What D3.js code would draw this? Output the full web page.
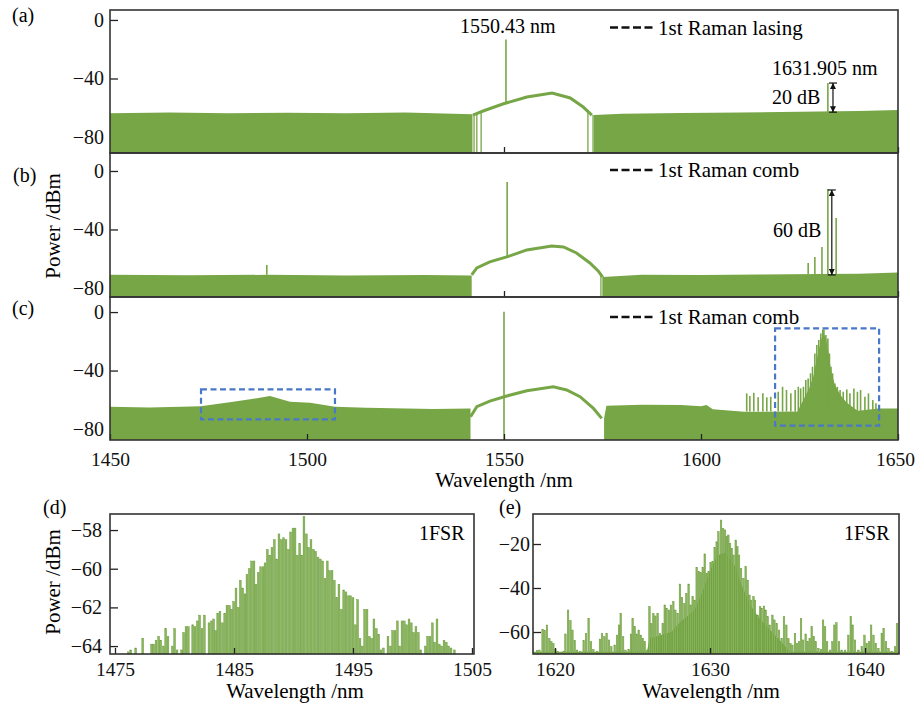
<!DOCTYPE html>
<html>
<head>
<meta charset="utf-8">
<script src="https://cdn.jsdelivr.net/npm/d3@7"></script>
<style>
  body { margin: 0; background: #fff; }
</style>
</head>
<body>
<div id="container"></div>
<script>
/* DATA */
const topTicksX = [1450, 1500, 1550, 1600, 1650];
const topTicksY = [0, -40, -80];
const dTicksX = [1475, 1485, 1495, 1505];
const dTicksY = [-58, -60, -62, -64];
const eTicksX = [1620, 1630, 1640];
const eTicksY = [-20, -40, -60];

// panel (a): [wavelength nm, dBm]
const aFloorLeft = [[1450,-63.8],[1465,-63.3],[1480,-63.8],[1495,-63.4],[1510,-63.7],[1525,-63.3],[1542,-64.5]];
const aFloorRight = [[1572.8,-65],[1580,-64],[1595,-63.6],[1610,-63.2],[1625,-62.8],[1640,-62.2],[1650,-61.5]];
const aHump = [[1542.1,-65],[1544.7,-62.2],[1549.7,-57.4],[1555.8,-52.6],[1562.2,-49.9],[1566.8,-53.3],[1570.1,-59.5],[1572.3,-65]];
const aEdges = [[1542.4,-64],[1543.1,-63.5],[1544.2,-62.6],[1571.3,-61.8],[1572.6,-65]];
const aSpikes = [[1550.5,-57.2,-13.3],[1632.2,-63,-43.1]]; // [nm, base, peak]

// panel (b)
const bFloorLeft = [[1450,-71],[1470,-71.4],[1490,-71],[1510,-71.5],[1530,-71.2],[1541.8,-71.5]];
const bFloorRight = [[1575,-72.5],[1585,-71],[1600,-71.2],[1615,-70.8],[1630,-70.5],[1640,-70.3],[1650,-69.5]];
const bHump = [[1541.8,-71.1],[1543.1,-66.3],[1546.4,-62.2],[1550.7,-58.8],[1555.8,-54],[1562.1,-51.3],[1565.1,-52],[1568.4,-56.1],[1571.8,-62.9],[1573.9,-68.4],[1575,-72.5]];
const bEdges = [[1574.6,-70],[1575.2,-72]];
const bSpikes = [[1489.8,-71,-64.3],[1550.8,-58.8,-7.5],[1627.2,-70.5,-62.9],[1628.9,-70.5,-58.8],[1630.7,-70.5,-52],[1632.2,-70.5,-12.3],[1634.3,-70.5,-32.1]];

// panel (c)
const cFloorLeft = [[1450,-64.7],[1460,-65.2],[1468,-64.8],[1473,-64.5],[1481.3,-61.3],[1486,-59.5],[1490.6,-57.4],[1495.7,-61.3],[1500.8,-62],[1507.1,-64.7],[1515.1,-65.4],[1532,-66.3],[1541.5,-66]];
const cFloorRight = [[1575.4,-72.7],[1576,-64],[1585,-63.4],[1595,-63.6],[1600,-64.5],[1601.4,-63.6],[1603,-66.5],[1611,-68.2],[1625,-68],[1640,-67.5],[1645,-66],[1650,-65.9]];
const cHump = [[1541.5,-71.6],[1543.1,-64.7],[1546.4,-60.9],[1550.7,-57.4],[1555.8,-53.8],[1562.5,-51.1],[1565.9,-53.3],[1569.3,-57.9],[1572.7,-65.9],[1574.8,-72.7]];
const cCore = [[1624.5,-68],[1626,-60],[1627.5,-52],[1628.5,-44],[1629.4,-32],[1630.4,-20],[1631,-14],[1631.7,-18],[1632.4,-28],[1633,-40],[1634,-50],[1635.5,-57],[1637,-62],[1639,-66],[1640,-68]];
const cSpikes = [[1550.0,-87.5,0.2],
  [1611.6,-68,-55.6],[1612.4,-68,-57.4],[1613.4,-68,-55.2],[1614.5,-68,-58.3],[1615.7,-68,-55.6],[1616.7,-68,-58.3],
  [1617.7,-68,-57.9],[1619.6,-68,-54.5],[1620.7,-68,-51.1],[1621.7,-68,-53.3],[1622.8,-68,-55.6],[1623.9,-68,-53.3],
  [1624.7,-68,-51.1],[1625.3,-68,-52.2],[1626.0,-68,-51.1],[1626.6,-68,-46.5],[1627.2,-68,-45.4],[1627.8,-68,-41.9],
  [1628.3,-68,-37.4],[1628.9,-68,-28.3],[1629.4,-68,-22.6],[1629.9,-68,-19.1],[1630.4,-68,-14.6],[1630.9,-68,-11.9],
  [1631.2,-68,-11.9],[1631.7,-68,-15.7],[1632.2,-68,-18.0],[1632.6,-68,-28.3],[1633.0,-68,-37.4],[1633.4,-68,-41.9],
  [1634.0,-68,-48.8],[1634.6,-68,-51.1],[1635.3,-68,-53.3],[1636.1,-68,-54.5],[1637.0,-68,-52.9],[1637.8,-68,-55.6],
  [1638.8,-68,-52.2],[1639.7,-68,-54.5],[1640.5,-68,-53.3],[1641.6,-68,-57.9],[1642.5,-68,-55.6],[1643.6,-68,-60.2],
  [1644.4,-68,-62.4]];
const cBoxes = [[1473.1,1507.1,-52.9,-73.4],[1618.8,1645.2,-11.1,-77.7]]; // [nm0, nm1, dB top, dB bottom]

// panel (d): comb lines [nm, dBm]
const dLines = [[1476.12,-64.3],[1476.32,-64.2],[1476.74,-64.1],[1477.33,-63.6],[1478.08,-63.9],[1478.25,-63.9],
  [1478.45,-63.7],[1478.67,-63.5],[1478.84,-63.7],[1479.06,-64.0],[1479.26,-63.1],[1479.45,-63.5],[1479.82,-64.0],
  [1480.01,-63.1],[1480.21,-64.2],[1480.60,-64.2],[1480.77,-63.3],[1480.97,-63.0],[1481.16,-63.0],[1481.53,-62.9],
  [1481.72,-63.0],[1481.92,-62.7],[1482.11,-62.4],[1482.31,-63.1],[1482.51,-62.4],[1482.90,-62.8],[1483.10,-62.7],
  [1483.29,-62.6],[1483.46,-63.2],[1483.63,-62.3],[1483.82,-62.2],[1484.02,-62.8],[1484.22,-62.3],[1484.41,-61.9],
  [1484.61,-61.9],[1484.78,-62.1],[1484.97,-61.7],[1485.17,-61.0],[1485.36,-62.0],[1485.53,-60.6],[1485.73,-61.0],
  [1485.92,-61.3],[1486.09,-60.3],[1486.29,-60.0],[1486.48,-59.6],[1486.68,-59.6],[1486.85,-60.8],[1487.04,-60.2],
  [1487.24,-59.9],[1487.44,-59.9],[1487.61,-59.7],[1487.80,-59.0],[1488.00,-59.3],[1488.19,-58.9],[1488.39,-58.5],
  [1488.59,-59.5],[1488.78,-58.2],[1488.98,-58.5],[1489.17,-58.4],[1489.37,-58.5],[1489.57,-59.0],[1489.76,-58.1],
  [1489.96,-57.9],[1490.13,-57.9],[1490.32,-59.3],[1490.52,-58.7],[1490.69,-59.3],[1490.88,-57.3],[1491.08,-58.2],
  [1491.27,-58.9],[1491.47,-58.5],[1491.67,-59.0],[1491.86,-59.1],[1492.06,-59.4],[1492.25,-59.5],[1492.45,-59.6],
  [1492.65,-60.5],[1492.84,-59.6],[1493.04,-60.1],[1493.24,-60.1],[1493.43,-60.6],[1493.63,-61.5],[1493.82,-60.8],
  [1494.02,-62.1],[1494.22,-61.1],[1494.41,-61.2],[1494.61,-61.4],[1494.80,-61.4],[1495.00,-61.5],[1495.20,-62.9],
  [1495.39,-61.6],[1495.59,-63.6],[1495.78,-64.0],[1495.98,-62.1],[1496.18,-62.1],[1496.37,-63.5],[1496.57,-63.6],
  [1496.76,-62.6],[1496.96,-63.1],[1497.16,-63.4],[1497.35,-64.2],[1497.55,-64.1],[1497.94,-63.5],[1498.14,-64.0],
  [1498.33,-63.2],[1498.53,-63.2],[1498.73,-62.7],[1498.92,-64.0],[1499.12,-62.7],[1499.31,-62.7],[1499.51,-62.9],
  [1499.71,-62.6],[1499.90,-62.8],[1500.10,-63.3],[1500.29,-63.0],[1500.49,-63.3],[1500.69,-64.2],[1501.08,-64.0],
  [1501.27,-63.5],[1501.47,-63.5],[1501.67,-62.8],[1501.86,-63.8],[1502.06,-62.6],[1502.25,-63.9],[1502.45,-64.0],
  [1502.65,-63.7],[1502.84,-63.8],[1503.04,-64.0],[1503.24,-64.1],[1503.52,-64.2]];

// panel (e): comb lines [nm, dBm], dense core envelope, floor strip
const eLines = [[1618.84,-68.5],[1618.99,-68.2],[1619.20,-58.8],[1619.33,-59.4],[1619.48,-56.8],[1619.63,-62.9],
  [1619.76,-64.4],[1619.89,-65.2],[1620.02,-67.9],[1620.19,-68.9],[1620.56,-68.9],[1620.67,-60.9],[1620.84,-50.0],
  [1620.99,-54.8],[1621.12,-59.1],[1621.27,-63.9],[1621.42,-68.2],[1621.63,-68.9],[1621.85,-63.9],[1622.00,-60.6],
  [1622.17,-53.8],[1622.32,-64.4],[1622.47,-67.9],[1622.71,-68.9],[1622.90,-63.2],[1623.03,-60.6],[1623.18,-62.1],
  [1623.33,-60.6],[1623.48,-63.6],[1623.63,-66.7],[1623.85,-65.9],[1624.00,-61.4],[1624.13,-56.8],[1624.24,-51.5],
  [1624.39,-62.1],[1624.54,-68.2],[1624.75,-67.9],[1624.90,-60.9],[1625.01,-53.8],[1625.14,-57.6],[1625.27,-60.9],
  [1625.40,-59.1],[1625.53,-61.4],[1625.66,-62.9],[1625.79,-64.4],[1625.94,-68.2],[1626.09,-48.5],[1626.21,-56.1],
  [1626.34,-51.5],[1626.47,-52.7],[1626.62,-51.5],[1626.77,-60.6],[1626.95,-56.1],[1627.08,-47.7],[1627.20,-49.2],
  [1627.35,-50.0],[1627.48,-47.7],[1627.63,-46.2],[1627.76,-50.0],[1627.91,-51.5],[1628.06,-38.2],[1628.19,-44.2],
  [1628.34,-47.0],[1628.47,-42.4],[1628.62,-38.2],[1628.75,-47.7],[1628.88,-43.9],[1629.01,-45.5],[1629.14,-30.6],
  [1629.27,-32.6],[1629.40,-33.0],[1629.53,-30.6],[1629.66,-24.5],[1629.79,-33.3],[1629.91,-32.6],[1630.04,-28.5],
  [1630.17,-28.0],[1630.30,-21.5],[1630.43,-19.0],[1630.54,-14.4],[1630.71,-9.1],[1630.84,-12.9],[1630.97,-13.6],
  [1631.08,-16.7],[1631.18,-15.9],[1631.29,-19.7],[1631.40,-22.0],[1631.51,-25.0],[1631.66,-18.2],[1631.76,-21.2],
  [1631.87,-25.0],[1632.00,-31.1],[1632.15,-35.6],[1632.30,-30.3],[1632.43,-36.4],[1632.54,-43.2],[1632.65,-45.5],
  [1632.80,-43.9],[1632.90,-45.5],[1633.08,-52.3],[1633.23,-48.5],[1633.33,-49.2],[1633.48,-48.2],[1633.59,-50.0],
  [1633.72,-53.0],[1633.85,-56.8],[1634.02,-52.3],[1634.15,-54.5],[1634.30,-56.1],[1634.45,-59.1],[1634.62,-62.9],
  [1634.77,-53.0],[1634.92,-56.8],[1635.05,-62.9],[1635.18,-65.2],[1635.31,-65.9],[1635.48,-60.6],[1635.61,-65.2],
  [1635.74,-64.4],[1635.87,-53.8],[1636.00,-63.6],[1636.17,-60.9],[1636.30,-64.4],[1636.43,-62.9],[1636.56,-57.6],
  [1636.69,-62.1],[1636.82,-64.4],[1636.99,-67.4],[1637.16,-67.9],[1637.29,-54.5],[1637.42,-57.6],[1637.55,-64.4],
  [1637.74,-68.2],[1637.89,-64.4],[1638.02,-56.8],[1638.15,-55.8],[1638.32,-64.4],[1638.49,-68.2],[1638.71,-68.2],
  [1638.92,-61.4],[1639.08,-53.0],[1639.20,-56.8],[1639.35,-63.6],[1639.57,-68.2],[1639.79,-66.7],[1639.96,-61.4],
  [1640.11,-65.2],[1640.26,-64.4],[1640.39,-56.8],[1640.54,-61.4],[1640.69,-65.2],[1640.86,-67.4],[1641.08,-60.6],
  [1641.20,-58.3],[1641.35,-64.4],[1641.51,-67.4],[1641.72,-68.9],[1641.94,-66.7],[1642.06,-56.1]];
const eCore = [[1625.9,-70],[1626.1,-63],[1627.5,-60],[1628.0,-56],[1629.0,-50],[1629.5,-42],[1630.0,-32],[1630.5,-25],
  [1631.0,-24],[1631.6,-30],[1632.0,-38],[1632.6,-48],[1633.2,-54],[1634.0,-60],[1634.8,-66],[1635.2,-70]];
const eFloor = [[1618.58,-69],[1642.19,-69]];

/* LAYOUT */
const width = 916, height = 704;
const green = "#77a647", greenBar = "#8ab65e", greenEdge = "#6a9a3b";
const serif = "'Liberation Serif', 'Times New Roman', Times, 'DejaVu Serif', serif";

const svg = d3.select("#container").append("svg")
  .attr("width", width).attr("height", height)
  .attr("font-family", serif).style("font-family", serif);

const xTop = d3.scaleLinear().domain([1450, 1650]).range([110, 898]);
const minus = d => d === 0 ? "0" : (d < 0 ? "\u2212" + Math.abs(d) : String(d));

function yAxisG(g, y, ticks, pad) {
  const ax = g.append("g").attr("transform", "translate(" + y.x0 + ",0)")
    .call(d3.axisLeft(y.s).tickValues(ticks).tickSize(-8).tickPadding(pad).tickFormat(minus))
    .attr("font-family", serif).attr("font-size", 20);
  ax.select(".domain").remove();
  ax.selectAll("line").attr("stroke", "#222").attr("stroke-width", 1.3);
  ax.selectAll("text").attr("fill", "#111");
}

function xTicksG(g, x, ticks, yb, labels, pad) {
  const ax = g.append("g").attr("transform", "translate(0," + yb + ")")
    .call(d3.axisBottom(x).tickValues(ticks).tickSize(-6).tickPadding(pad).tickFormat(d3.format("d")))
    .attr("font-family", serif).attr("font-size", 19.5);
  ax.select(".domain").remove();
  ax.selectAll("line").attr("stroke", "#222").attr("stroke-width", 1.3);
  if (!labels) ax.selectAll("text").remove();
  else ax.selectAll("text").attr("fill", "#111");
  return ax;
}

function drawTop(p) {
  const y = d3.scaleLinear().domain(p.dom).range([p.bottom, p.top]);
  const g = svg.append("g");
  const clipId = "clip" + p.id;
  svg.append("clipPath").attr("id", clipId).append("rect")
    .attr("x", 110).attr("y", p.top).attr("width", 788).attr("height", p.bottom - p.top);

  yAxisG(g, {x0: 110, s: y}, topTicksY, 6);
  if (!p.last) xTicksG(g, xTop, topTicksX, p.bottom, false, 0);

  const pg = g.append("g").attr("clip-path", "url(#" + clipId + ")");
  const area = d3.area().x(d => xTop(d[0])).y0(p.bottom).y1(d => y(d[1]));
  const line = d3.line().x(d => xTop(d[0])).y(d => y(d[1]));

  [p.floorL, p.floorR].forEach(f => pg.append("path").attr("d", area(f)).attr("fill", green));
  if (p.core) pg.append("path").attr("d", area(p.core)).attr("fill", green);
  pg.append("path").attr("d", line(p.hump)).attr("fill", "none")
    .attr("stroke", green).attr("stroke-width", 3);
  pg.selectAll(".edge").data(p.edges).join("line")
    .attr("x1", d => xTop(d[0])).attr("x2", d => xTop(d[0]))
    .attr("y1", d => y(d[1])).attr("y2", p.bottom)
    .attr("stroke", green).attr("stroke-width", 1.3);
  pg.selectAll(".spike").data(p.spikes).join("line")
    .attr("x1", d => xTop(d[0])).attr("x2", d => xTop(d[0]))
    .attr("y1", d => y(d[1])).attr("y2", d => y(d[2]))
    .attr("stroke", green).attr("stroke-width", 1.6);

  if (p.last) {
    const ax = xTicksG(g, xTop, topTicksX, p.bottom, true, 12);
    ax.selectAll("text").filter(d => d === 1650).attr("dx", -3);
  }

  g.append("rect").attr("x", 110).attr("y", p.top).attr("width", 788).attr("height", p.bottom - p.top)
    .attr("fill", "none").attr("stroke", "#333").attr("stroke-width", 1.6);

  // legend
  g.append("line").attr("x1", 610).attr("x2", 655).attr("y1", p.legY).attr("y2", p.legY)
    .attr("stroke", "#111").attr("stroke-width", 2.6).attr("stroke-dasharray", "8,3.5");
  g.append("text").attr("x", 658).attr("y", p.legY + 7).attr("font-size", 21).text(p.legend);
  return {g, y};
}

const pa = drawTop({id: "a", top: 10, bottom: 153, dom: [-90.9, 6.8], floorL: aFloorLeft, floorR: aFloorRight,
  hump: aHump, edges: aEdges, spikes: aSpikes, legY: 27.5, legend: "1st Raman lasing"});
const pb = drawTop({id: "b", top: 153, bottom: 297, dom: [-86.2, 12.3], floorL: bFloorLeft, floorR: bFloorRight,
  hump: bHump, edges: bEdges, spikes: bSpikes, legY: 170, legend: "1st Raman comb"});
const pc = drawTop({id: "c", top: 297, bottom: 440, dom: [-87.5, 10.3], floorL: cFloorLeft, floorR: cFloorRight,
  hump: cHump, edges: [], spikes: cSpikes, core: cCore, legY: 317, legend: "1st Raman comb", last: true});

// dashed zoom boxes in (c)
pc.g.selectAll(".box").data(cBoxes).join("rect")
  .attr("x", d => xTop(d[0])).attr("y", d => pc.y(d[2]))
  .attr("width", d => xTop(d[1]) - xTop(d[0])).attr("height", d => pc.y(d[3]) - pc.y(d[2]))
  .attr("fill", "none").attr("stroke", "#4a78c8").attr("stroke-width", 2.2).attr("stroke-dasharray", "6,3.5");

// arrows
svg.append("defs").html(
  '<marker id="ah" viewBox="0 0 10 10" refX="10" refY="5" markerWidth="5" markerHeight="5" orient="auto-start-reverse">' +
  '<path d="M0,0L10,5L0,10z" fill="#111"/></marker>');
function arrow(p, nm, d0, d1) {
  const x = xTop(nm), y0 = p.y(d0), y1 = p.y(d1);
  p.g.append("line").attr("x1", x).attr("x2", x).attr("y1", y0).attr("y2", y1)
    .attr("stroke", "#111").attr("stroke-width", 1.2)
    .attr("marker-start", "url(#ah)").attr("marker-end", "url(#ah)");
  [y0, y1].forEach(v => p.g.append("line").attr("x1", x - 4).attr("x2", x + 4).attr("y1", v).attr("y2", v)
    .attr("stroke", "#111").attr("stroke-width", 1.2));
}
arrow(pa, 1633.5, -43.1, -63);
arrow(pb, 1633.2, -13.0, -71.1);

// annotations
const ann = [
  {x: 460, y: 33, t: "1550.43 nm"}, {x: 772, y: 75, t: "1631.905 nm"}, {x: 772, y: 104, t: "20 dB"},
  {x: 773, y: 237, t: "60 dB"},
  {x: 12, y: 22, t: "(a)"}, {x: 13, y: 182, t: "(b)"}, {x: 12, y: 315, t: "(c)"},
  {x: 43, y: 514, t: "(d)"}, {x: 499, y: 514, t: "(e)"},
  {x: 419, y: 540, t: "1FSR"}, {x: 844, y: 540, t: "1FSR"}
];
svg.selectAll(".ann").data(ann).join("text")
  .attr("x", d => d.x).attr("y", d => d.y).attr("font-size", 20).text(d => d.t);

svg.append("text").attr("x", 504).attr("y", 487).attr("text-anchor", "middle")
  .attr("font-size", 21).text("Wavelength /nm");
svg.append("text").attr("transform", "translate(60,226) rotate(-90)").attr("text-anchor", "middle")
  .attr("font-size", 21).text("Power /dBm");

/* BOTTOM PANELS */
function drawBottom(p) {
  const x = d3.scaleLinear().domain(p.xdom).range([p.left, p.right]);
  const y = d3.scaleLinear().domain(p.ydom).range([654, 514]);
  const g = svg.append("g");
  yAxisG(g, {x0: p.left, s: y}, p.yt, p.pad);
  if (p.floor) g.append("path")
    .attr("d", d3.area().x(d => x(d[0])).y0(654).y1(d => y(d[1]))(p.floor)).attr("fill", green);
  if (p.core) g.append("path")
    .attr("d", d3.area().x(d => x(d[0])).y0(654).y1(d => y(d[1]))(p.core)).attr("fill", green);
  g.selectAll(".bar").data(p.lines).join("rect")
    .attr("x", d => x(d[0]) - p.bw / 2).attr("width", p.bw)
    .attr("y", d => y(d[1])).attr("height", d => 654 - y(d[1]))
    .attr("fill", greenBar).attr("stroke", greenEdge).attr("stroke-width", 0.45);
  xTicksG(g, x, p.xt, 654, true, 8);
  g.append("rect").attr("x", p.left).attr("y", 514).attr("width", p.right - p.left).attr("height", 140)
    .attr("fill", "none").attr("stroke", "#333").attr("stroke-width", 1.6);
  g.append("text").attr("x", (p.left + p.right) / 2 + p.lx).attr("y", 698).attr("text-anchor", "middle")
    .attr("font-size", 21).text("Wavelength /nm");
}
drawBottom({left: 110, right: 474, xdom: [1474.58, 1505.17], ydom: [-64.41, -57.17], xt: dTicksX, yt: dTicksY,
  lines: dLines, bw: 1.8, pad: 8, lx: 3});
drawBottom({left: 533, right: 899, xdom: [1618.58, 1642.19], ydom: [-70, -6.36], xt: eTicksX, yt: eTicksY,
  lines: eLines, core: eCore, floor: eFloor, bw: 1.6, pad: 3, lx: -5});

svg.append("text").attr("transform", "translate(60,582) rotate(-90)").attr("text-anchor", "middle")
  .attr("font-size", 21).text("Power /dBm");
</script>
</body>
</html>
